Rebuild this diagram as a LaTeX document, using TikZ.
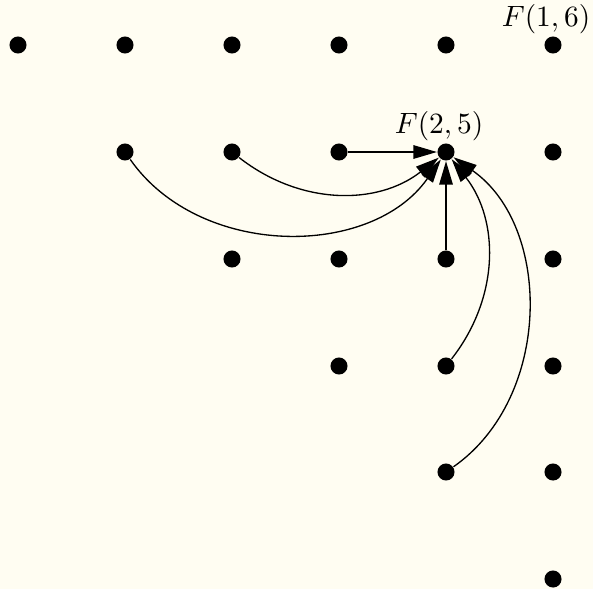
\documentclass[tikz,border=0pt]{standalone}
\usetikzlibrary{arrows.meta}
\definecolor{bg}{RGB}{255,253,242}
\begin{document}
\begin{tikzpicture}[x=0.34pt,y=-0.34pt,
  dot/.style={circle,fill=black,inner sep=0pt,minimum size=5.8pt},
  arr/.style={-{Triangle[length=8pt,width=4.6pt]},line width=0.45pt},
  lab/.style={anchor=base,inner sep=0pt}]
\fill[bg] (0,0) rectangle (593,589);
\useasboundingbox (0,0) rectangle (593,589);
\foreach \i/\y in {1/45,2/152,3/259,4/366,5/472,6/579}{
  \foreach \j/\x in {1/18,2/125,3/232,4/339,5/446,6/553}{
    \ifnum\j<\i\relax\else
      \node[dot] (n-\i-\j) at (\x,\y) {};
    \fi
  }
}
\node[lab] (l16) at ([shift={(-7,-19)}]n-1-6) {$F(1,6)$};
\node[lab] (l25) at ([shift={(-7,-19)}]n-2-5) {$F(2,5)$};
\draw[arr] (n-2-4) -- (n-2-5);
\draw[arr] (n-3-5) -- (n-2-5);
\draw[arr] (n-2-3) to[bend right=38] (n-2-5);
\draw[arr] (n-2-2) to[bend right=55] (n-2-5);
\draw[arr] (n-4-5) to[bend right=38] (n-2-5);
\draw[arr] (n-5-5) to[bend right=55] (n-2-5);
\end{tikzpicture}
\end{document}
